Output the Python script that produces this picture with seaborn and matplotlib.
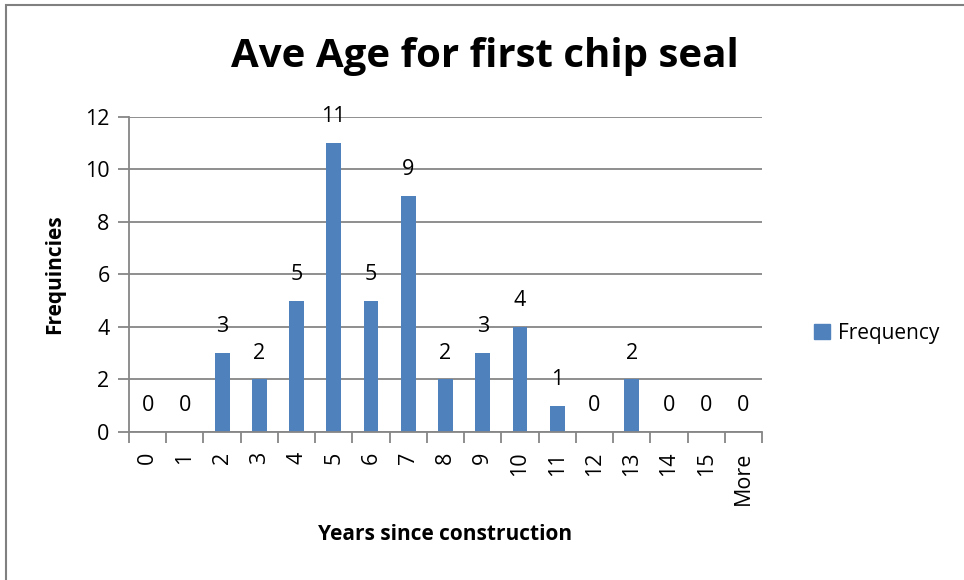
import matplotlib
matplotlib.use("Agg")
import matplotlib.pyplot as plt
import matplotlib.patches as mpatches
import seaborn as sns
import pandas as pd

# Histogram bins and counts
bins = ['0', '1', '2', '3', '4', '5', '6', '7', '8', '9', '10', '11', '12', '13', '14', '15', 'More']
frequency = [0, 0, 3, 2, 5, 11, 5, 9, 2, 3, 4, 1, 0, 2, 0, 0, 0]

df = pd.DataFrame({'Bin': bins, 'Frequency': frequency})

sns.set_style('white')
plt.rcParams['font.family'] = ['Open Sans', 'DejaVu Sans']
plt.rcParams['text.color'] = 'black'
plt.rcParams['axes.labelcolor'] = 'black'
plt.rcParams['xtick.labelcolor'] = 'black'
plt.rcParams['ytick.labelcolor'] = 'black'

bar_color = '#4F81BD'
grid_color = '#868686'

fig = plt.figure(figsize=(9.64, 5.80), dpi=100)
ax = fig.add_axes([0.1338, 0.2552, 0.7905 - 0.1338, 0.7983 - 0.2552])

sns.barplot(data=df, x='Bin', y='Frequency', color=bar_color, width=0.4,
            saturation=1, linewidth=0, ax=ax)

# Data labels above bars
for i, v in enumerate(frequency):
    ax.annotate(str(v), (i, v), xytext=(0, 19), textcoords='offset points',
                ha='center', va='center', fontsize=15.5, color='black')

ax.set_ylim(0, 12)
ax.set_yticks(range(0, 13, 2))
ax.set_xlim(-0.5, len(bins) - 0.5)
ax.yaxis.grid(True, color=grid_color, linewidth=1.3)
ax.set_axisbelow(True)

# Ticks between categories, Excel style
ax.set_xticks([i - 0.5 for i in range(len(bins) + 1)], minor=True)
ax.tick_params(axis='x', which='major', length=0, pad=14, labelsize=15.5, rotation=90)
ax.tick_params(axis='x', which='minor', length=8, width=1.3, color=grid_color, direction='out')
ax.tick_params(axis='y', which='major', length=8, width=1.3, color=grid_color,
               direction='out', labelsize=15.5, pad=6)
ax.tick_params(axis='y', left=True)
ax.tick_params(axis='x', which='minor', bottom=True)

for side in ['top', 'right']:
    ax.spines[side].set_visible(False)
for side in ['left', 'bottom']:
    ax.spines[side].set_color(grid_color)
    ax.spines[side].set_linewidth(1.3)

ax.set_xlabel('Years since construction', fontsize=15, fontweight='bold', labelpad=14)
ax.set_ylabel('Frequincies', fontsize=15, fontweight='bold', labelpad=14)

fig.text(0.503, 1 - 57 / 580, 'Ave Age for first chip seal', ha='center', va='center',
         fontsize=29, fontweight='bold')

handle = mpatches.Patch(color=bar_color, label='Frequency')
fig.legend(handles=[handle], loc='center left', bbox_to_anchor=(0.825, 1 - 333 / 580),
           frameon=False, fontsize=15, handlelength=0.75, handleheight=0.75,
           handletextpad=0.4)

# Chart border
fig.patches.append(mpatches.Rectangle((6 / 964, -0.05), 1.2, 1 - 5 / 580 + 0.05,
                                      transform=fig.transFigure, fill=False,
                                      edgecolor='#808080', linewidth=1.5))

fig.savefig('out.png', dpi=100)
